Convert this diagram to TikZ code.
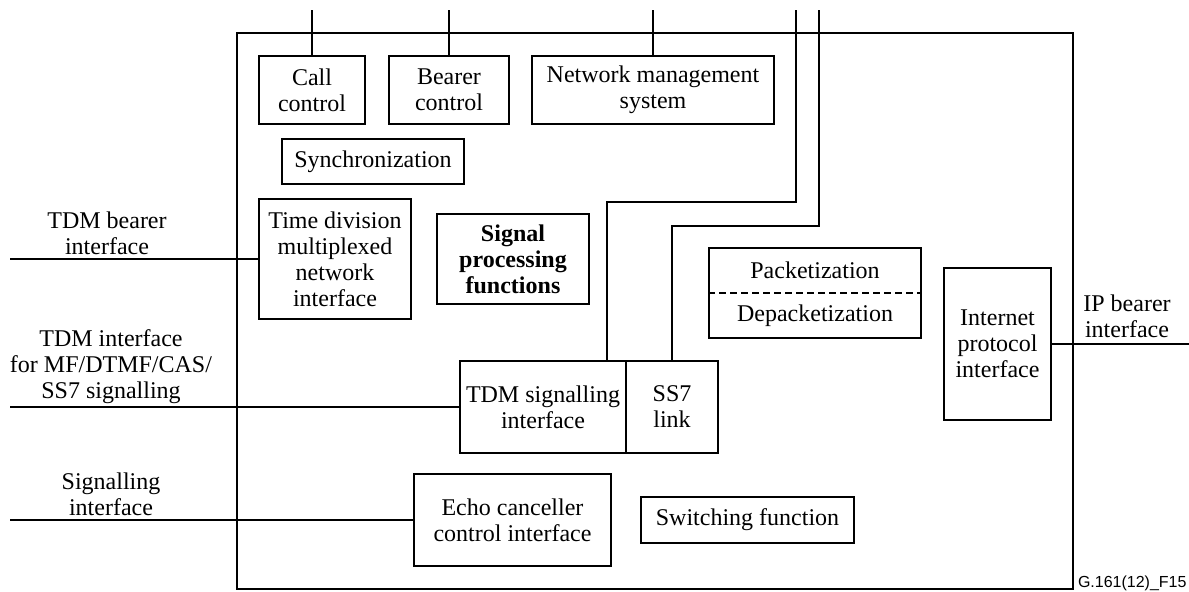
\documentclass[tikz,border=0pt]{standalone}
\usepackage{fontspec}
\setmainfont{Liberation Serif}
\newfontfamily\figidfont{Liberation Sans}
\begin{document}
\begin{tikzpicture}[x=0.5pt,y=-0.5pt,
  line width=1pt,
  txt/.style={font=\fontsize{12}{13}\selectfont, align=center, inner sep=0pt},
  box/.style={txt, draw, minimum width=#1},
  box/.default=20pt,
  wire/.style={draw, line width=1pt}]
\useasboundingbox (0,0) rectangle (1189,591);

% gateway frame
\node[draw, inner sep=0pt, minimum width=418pt, minimum height=278pt] (gw) at (655,311) {};

% control functions along the top
\node[box=53pt, minimum height=34pt] (cc) at (312,90) {Call\\control};
\node[box=60pt, minimum height=34pt] (bc) at (449,90) {Bearer\\control};
\node[box=121pt, minimum height=34pt] (nms) at (653,90) {Network management\\system};
\node[box=91pt, minimum height=22.5pt] (sync) at (373,161.5) {Synchronization};

% media functions
\node[box=76pt, minimum height=60pt] (tdn) at (335,259) {Time division\\multiplexed\\network\\interface};
\node[box=76pt, minimum height=45pt, font=\fontsize{12}{13}\selectfont\bfseries] (spf) at (513,259) {Signal\\processing\\functions};
\node[box=106pt, minimum height=45pt] (pkt) at (815,293) {};
\node[txt] (pkt-up) at (815,270.5) {Packetization};
\node[txt] (pkt-dn) at (815,315.5) {Depacketization};
\draw[dash pattern=on 3.5pt off 2pt] (pkt.west) -- (pkt.east);
\node[box=53.5pt, minimum height=76pt] (ipi) at (997.5,344) {Internet\\protocol\\interface};

% signalling functions
\node[box=83pt, minimum height=46pt] (tsi) at (543,407) {TDM signalling\\interface};
\node[box=46pt, minimum height=46pt] (ss7) at (672,407) {SS7\\link};
\node[box=98.5pt, minimum height=46pt] (eci) at (512.5,520) {Echo canceller\\control interface};
\node[box=106.5pt, minimum height=23pt] (swf) at (747.5,520) {Switching function};

% external interface labels
\node[txt] (lbl-tdmb) at (107,233) {TDM bearer\\interface};
\node[txt] (lbl-tdms) at (111,367) {TDM interface\\for MF/DTMF/CAS/\\SS7 signalling};
\node[txt] (lbl-sig) at (111,494) {Signalling\\interface};
\node[txt] (lbl-ip) at (1127,316) {IP bearer\\interface};
\node[anchor=base west, inner sep=0pt, font=\figidfont\fontsize{8}{9}\selectfont] (figid) at (1077,587) {G.161(12)\_F15};

% free ends of the external lines
\coordinate (ext-tdmb) at (10,259);
\coordinate (ext-tdms) at (10,407);
\coordinate (ext-sig) at (10,520);
\coordinate (ext-ip) at (1189,344);
\coordinate (ext-cc) at (312,10);
\coordinate (ext-bc) at (449,10);
\coordinate (ext-nms) at (653,10);
\coordinate (ext-l1) at (796,10);
\coordinate (ext-l2) at (819,10);
\coordinate (bend-l1) at (607,202);
\coordinate (bend-l2) at (672,226);

% connections
\path[wire] (ext-tdmb) -- (tdn.west);
\path[wire] (ext-tdms) -- (tsi.west);
\path[wire] (ext-sig) -- (eci.west);
\path[wire] (ipi.east) -- (ext-ip);
\path[wire] (ext-cc) -- (cc.north);
\path[wire] (ext-bc) -- (bc.north);
\path[wire] (ext-nms) -- (nms.north);
\path[wire] (ext-l1) |- (bend-l1) -- (bend-l1 |- tsi.north);
\path[wire] (ext-l2) |- (bend-l2) -- (ss7.north);
\end{tikzpicture}
\end{document}
